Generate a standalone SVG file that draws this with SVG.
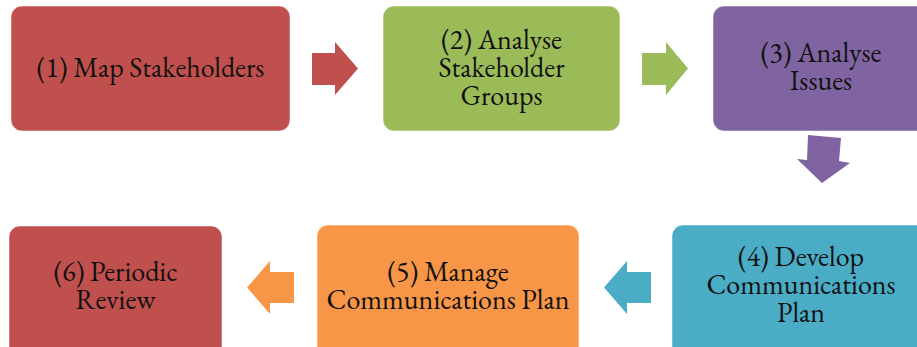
<svg xmlns="http://www.w3.org/2000/svg" width="917" height="347" viewBox="0 0 917 347">
  <style>
    .box { stroke: #ffffff; stroke-opacity: 0.5; stroke-width: 1; }
    .lbl { font-size: 28px; fill: #111111; text-anchor: middle; }
    .red { fill: #C0504D; }
    .green { fill: #9BBB59; }
    .purple { fill: #8064A2; }
    .teal { fill: #4BACC6; }
    .orange { fill: #F79646; }
  </style>
  <rect width="917" height="347" fill="#ffffff"/>

  <!-- process steps -->
  <g font-family="'EB Garamond', Garamond, 'Liberation Serif', serif">
    <g id="step1">
      <rect class="box red" x="11" y="6" width="279" height="125" rx="11"/>
      <text class="lbl" x="150.5" y="77">(1) Map Stakeholders</text>
    </g>
    <g id="step2">
      <rect class="box green" x="383" y="6" width="237" height="125" rx="11"/>
      <text class="lbl" x="501.5" y="49">(2) Analyse</text>
      <text class="lbl" x="501.5" y="77">Stakeholder</text>
      <text class="lbl" x="501.5" y="105">Groups</text>
    </g>
    <g id="step3">
      <rect class="box purple" x="713" y="6" width="230" height="125" rx="11"/>
      <text class="lbl" x="821" y="62">(3) Analyse</text>
      <text class="lbl" x="821" y="90">Issues</text>
    </g>
    <g id="step4">
      <rect class="box teal" x="672" y="225" width="270" height="140" rx="11"/>
      <text class="lbl" x="801" y="266">(4) Develop</text>
      <text class="lbl" x="801" y="294">Communications</text>
      <text class="lbl" x="801" y="322">Plan</text>
    </g>
    <g id="step5">
      <rect class="box orange" x="317" y="225" width="262" height="140" rx="11"/>
      <text class="lbl" x="448" y="281">(5) Manage</text>
      <text class="lbl" x="448" y="309">Communications Plan</text>
    </g>
    <g id="step6">
      <rect class="box red" x="9" y="226" width="213" height="140" rx="11"/>
      <text class="lbl" x="115.5" y="281">(6) Periodic</text>
      <text class="lbl" x="115.5" y="309">Review</text>
    </g>
  </g>

  <!-- block arrows between steps -->
  <g id="connectors">
    <polygon class="red" points="312,53 335,53 335,42 358,68.5 335,95 335,85 312,85"/>
    <polygon class="green" points="642,53 666,53 666,42 688,68.5 666,95 666,85 642,85"/>
    <polygon class="purple" points="808,135 841,138 839,161 850,163 822,183 797,159 807,160"/>
    <polygon class="teal" points="651,272 627,272 627,261 604,287.5 627,314 627,303 651,303"/>
    <polygon class="orange" points="294,272 270,272 270,261 247,287.5 270,314 270,303 294,303"/>
  </g>
</svg>
